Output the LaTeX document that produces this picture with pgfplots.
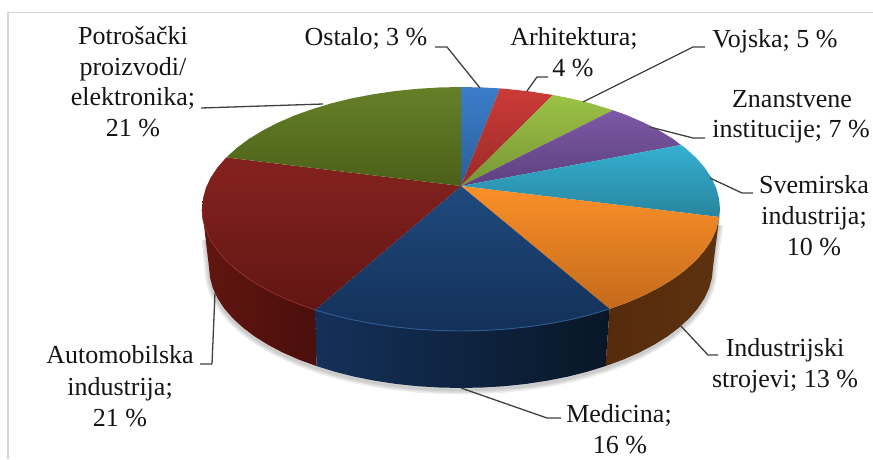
\documentclass[border=0pt]{standalone}
\usepackage{fontspec}
\setmainfont{Liberation Serif}
\usepackage{pgfplots}
\pgfplotsset{compat=1.18}
\definecolor{lead}{HTML}{404040}
\newcommand{\hc}[1]{\definecolor{c#1}{HTML}{#1}}
\hc{5C3210}\hc{552B0C}\hc{14305A}\hc{081726}\hc{0E2139}\hc{611610}\hc{4A0F0C}\hc{58130E}
\hc{3C7DCA}\hc{2A5F98}\hc{CB3B37}\hc{9A2A28}\hc{9CC246}\hc{779636}\hc{7D58A6}\hc{5D417E}
\hc{34B0D2}\hc{29859E}\hc{FB9029}\hc{C46A1B}\hc{1F4A7E}\hc{133058}\hc{85221F}\hc{611614}
\hc{658029}\hc{4B6018}\hc{8A2E29}\hc{2F5C94}
\newcommand{\lab}[3]{\node[anchor=base,inner sep=0pt,text=black!92,font=\fontsize{26}{31}\selectfont] at (axis cs:#1,#2) {#3};}
\begin{document}
\begin{tikzpicture}
\useasboundingbox (0,0) rectangle (873pt,459pt);
\begin{axis}[at={(0,0)},anchor=south west,scale only axis,width=873pt,height=459pt,
  xmin=0,xmax=873,ymin=0,ymax=459,y dir=reverse,hide axis,clip=false,
  every axis plot/.append style={line join=round}]
% frame
\addplot[draw=black!16,line width=1.2pt] coordinates {(8,459) (8,12.5) (873,12.5)};
% shadow
\pgfplotsinvokeforeach{9,6,3}{
\addplot[draw=black,opacity=0.07,line width=#1pt] coordinates {(719,225) (715,250) (713,269) (712,279.5) (709.2,290) (704.4,300.3) (697.8,310.4) (689.4,320.1) (679.2,329.5) (667.4,338.4) (654,346.8) (639.2,354.6) (623,361.7) (605.5,368.1) (587,373.8) (567.5,378.7) (547.2,382.7) (526.2,385.9) (504.7,388.2) (483,389.5) (461,390) (439,389.5) (417.3,388.2) (395.8,385.9) (374.8,382.7) (354.5,378.7) (335,373.8) (316.5,368.1) (299,361.7) (282.8,354.6) (268,346.8) (254.6,338.4) (242.8,329.5) (232.6,320.1) (224.2,310.4) (217.6,300.3) (212.8,290) (210,279.5) (209,269) (206,240)};
}
% side walls
\addplot[draw=none,left color=c552B0C,right color=c5C3210] coordinates {(719.3,217) (716.1,230.2) (711.2,240.6) (704.4,250.7) (695.7,260.6) (685.3,270) (673.2,279) (659.4,287.4) (644.1,295.3) (627.5,302.5) (609.6,308.9) (605.5,366.1) (623,359.7) (639.2,352.6) (654,344.8) (667.4,336.4) (679.2,327.5) (689.4,318.1) (697.8,308.4) (704.4,298.3) (709.2,288) (712,277.5) (713,267)};
\addplot[draw=none,left color=c14305A,right color=c081726] coordinates {(609.6,308.9) (590.5,314.7) (570.5,319.6) (549.6,323.6) (528,326.8) (506,329.1) (483.6,330.5) (461,331) (438.4,330.5) (416,329.1) (394,326.8) (372.4,323.6) (351.5,319.6) (331.5,314.7) (315,310) (316.5,366.1) (335,371.8) (354.5,376.7) (374.8,380.7) (395.8,383.9) (417.3,386.2) (439,387.5) (461,388) (483,387.5) (504.7,386.2) (526.2,383.9) (547.2,380.7) (567.5,376.7) (587,371.8) (605.5,366.1)};
\addplot[draw=none,left color=c611610,right color=c4A0F0C] coordinates {(315,310) (294.5,302.5) (277.9,295.3) (262.6,287.4) (248.8,279) (236.7,270) (226.3,260.6) (217.6,250.7) (210.8,240.6) (205.9,230.2) (203,219.6) (202,209) (209,267) (210,277.5) (212.8,288) (217.6,298.3) (224.2,308.4) (232.6,318.1) (242.8,327.5) (254.6,336.4) (268,344.8) (282.8,352.6) (299,359.7) (316.5,366.1)};
% top faces (Ostalo 3, Arhitektura 4, Vojska 5, Znanstvene 7, Svemirska 10, Industrijski 13, Medicina 16, Automobilska 21, Potrosacki 21)
\addplot[draw=none,top color=c3C7DCA,bottom color=c2A5F98] coordinates {(461,186) (461,87) (483.6,87.5) (500,88.4)};
\addplot[draw=none,top color=cCB3B37,bottom color=c9A2A28] coordinates {(461,186) (500,88.4) (506,88.9) (528,91.2) (553,95)};
\addplot[draw=none,top color=c9CC246,bottom color=c779636] coordinates {(461,186) (553,95) (570.5,98.4) (590.5,103.3) (613,110.2)};
\addplot[draw=none,top color=c7D58A6,bottom color=c5D417E] coordinates {(461,186) (613,110.2) (627.5,115.5) (644.1,122.7) (659.4,130.6) (673.2,139) (681,145)};
\addplot[draw=none,top color=c34B0D2,bottom color=c29859E] coordinates {(461,186) (681,145) (685.3,148) (695.7,157.4) (704.4,167.3) (711.2,177.4) (716.1,187.8) (719,198.4) (720,209) (719.3,217)};
\addplot[draw=none,top color=cFB9029,bottom color=cC46A1B] coordinates {(461,186) (719.3,217) (716.1,230.2) (711.2,240.6) (704.4,250.7) (695.7,260.6) (685.3,270) (673.2,279) (659.4,287.4) (644.1,295.3) (627.5,302.5) (609.6,308.9)};
\addplot[draw=none,top color=c1F4A7E,bottom color=c133058] coordinates {(461,186) (609.6,308.9) (590.5,314.7) (570.5,319.6) (549.6,323.6) (528,326.8) (506,329.1) (483.6,330.5) (461,331) (438.4,330.5) (416,329.1) (394,326.8) (372.4,323.6) (351.5,319.6) (331.5,314.7) (315,310)};
\addplot[draw=none,top color=c85221F,bottom color=c611614] coordinates {(461,186) (315,310) (294.5,302.5) (277.9,295.3) (262.6,287.4) (248.8,279) (236.7,270) (226.3,260.6) (217.6,250.7) (210.8,240.6) (205.9,230.2) (203,219.6) (202,209) (203,198.4) (205.9,187.8) (210.8,177.4) (217.6,167.3) (226.3,157.4)};
\addplot[draw=none,top color=c658029,bottom color=c4B6018] coordinates {(461,186) (226.3,157.4) (236.7,148) (248.8,139) (262.6,130.6) (277.9,122.7) (294.5,115.5) (312.4,109.1) (331.5,103.3) (351.5,98.4) (372.4,94.4) (394,91.2) (416,88.9) (438.4,87.5) (461,87)};
% rim highlights
\addplot[draw=c8A2E29,line width=0.9pt] coordinates {(315,310) (294.5,302.5) (277.9,295.3) (262.6,287.4) (248.8,279) (236.7,270) (226.3,260.6) (217.6,250.7) (210.8,240.6) (205.9,230.2) (203,219.6) (202,209)};
\addplot[draw=c2F5C94,line width=0.9pt] coordinates {(609.6,308.9) (590.5,314.7) (570.5,319.6) (549.6,323.6) (528,326.8) (506,329.1) (483.6,330.5) (461,331) (438.4,330.5) (416,329.1) (394,326.8) (372.4,323.6) (351.5,319.6) (331.5,314.7) (315,310)};
% leader lines
\addplot[draw=lead,line width=1.3pt] coordinates {(435,47) (447,47) (480,88)};
\addplot[draw=lead,line width=1.3pt] coordinates {(548,77) (537,77) (527,91)};
\addplot[draw=lead,line width=1.3pt] coordinates {(705,47) (693,47) (583,102)};
\addplot[draw=lead,line width=1.3pt] coordinates {(705,138) (693,138) (650,127)};
\addplot[draw=lead,line width=1.3pt] coordinates {(753,193) (742,193) (710,178)};
\addplot[draw=lead,line width=1.3pt] coordinates {(680,325) (708,355) (718,355)};
\addplot[draw=lead,line width=1.3pt] coordinates {(461,388) (547,418) (561,418)};
\addplot[draw=lead,line width=1.3pt] coordinates {(215,293) (212,364) (200,364)};
\addplot[draw=lead,line width=1.3pt] coordinates {(201,108) (323,104)};
% labels
\lab{133}{44}{Potrošački}
\lab{133}{75}{proizvodi/}
\lab{133}{105}{elektronika;}
\lab{133}{136}{21 \%}
\lab{366}{45}{Ostalo; 3 \%}
\lab{574}{45}{Arhitektura;}
\lab{573}{76}{4 \%}
\lab{775}{47}{Vojska; 5 \%}
\lab{792}{107}{Znanstvene}
\lab{791}{137}{institucije; 7 \%}
\lab{814}{193}{Svemirska}
\lab{814}{224}{industrija;}
\lab{814}{255}{10 \%}
\lab{785}{356}{Industrijski}
\lab{785}{387}{strojevi; 13 \%}
\lab{120}{363}{Automobilska}
\lab{120}{395}{industrija;}
\lab{120}{426}{21 \%}
\lab{619}{422}{Medicina;}
\lab{620}{453}{16 \%}
\end{axis}
\end{tikzpicture}
\end{document}
